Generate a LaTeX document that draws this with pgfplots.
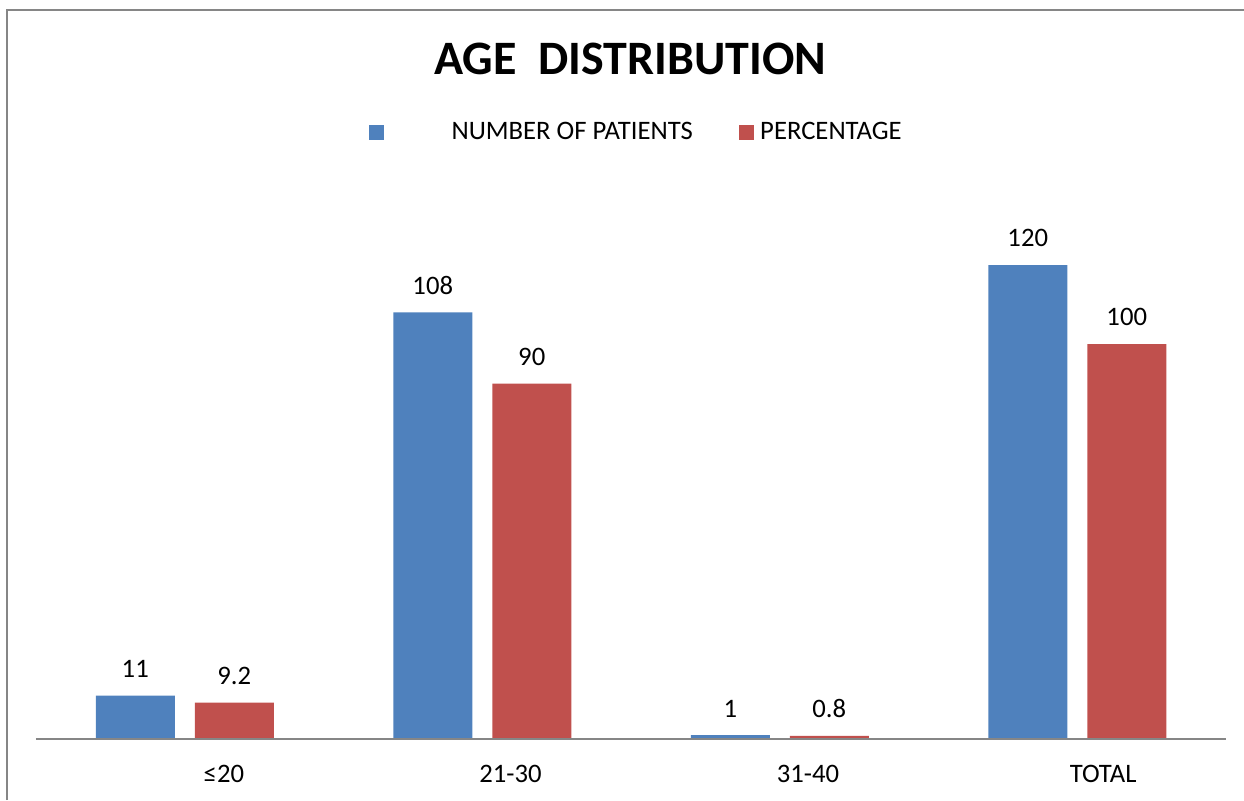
\documentclass[border=0pt]{standalone}
\usepackage{fontspec}
\setmainfont{Carlito}
\usepackage{pgfplots}
\pgfplotsset{compat=1.18}
\definecolor{barblue}{HTML}{4F81BD}
\definecolor{barred}{HTML}{C0504D}
\definecolor{framegray}{HTML}{868686}

\begin{document}
\begin{tikzpicture}[x=0.75pt,y=0.75pt]
\useasboundingbox (0,0) rectangle (1244,800);
% chart frame (open at right and bottom)
\draw[framegray, line width=1.5pt] (7,0) -- (7,790) -- (1260,790);
% title
\node[anchor=base, font=\fontsize{36}{40}\selectfont\bfseries] at (630,725) {AGE\ \ DISTRIBUTION};
\begin{axis}[
  at={(27pt,45.75pt)}, anchor=south west,
  scale only axis, width=892.5pt, height=385.1pt,
  xmin=-0.5, xmax=3.5, ymin=0, ymax=130,
  ybar=15pt, bar width=59.25pt,
  axis y line=none,
  axis x line=bottom,
  x axis line style={-, framegray, line width=1.5pt},
  xtick={0,1,2,3},
  xticklabels={≤20,21-30,31-40,TOTAL},
  major tick length=0pt,
  xticklabel style={anchor=north east, xshift=48pt, yshift=-16pt, font=\fontsize{20}{24}\selectfont},
  ytick=\empty,
  /pgf/number format/assume math mode=true,
  nodes near coords,
  every node near coord/.append style={font=\fontsize{20}{24}\selectfont, yshift=10pt, text=black},
  legend columns=2,
  legend cell align=left,
  legend image code/.code={\fill[#1] (0pt,-5.6pt) rectangle (11.25pt,5.6pt);},
  legend style={draw=none, fill=none, inner sep=0pt, at={(0.2798,1.182)}, anchor=west,
    font=\fontsize{20}{24}\selectfont,
    /tikz/every even column/.append style={column sep=32.25pt}},
  axis on top,
  clip=false,
]
\addplot[fill=barblue, draw=none] coordinates {(0,11) (1,108) (2,1) (3,120)};
\addplot[fill=barred, draw=none] coordinates {(0,9.2) (1,90) (2,0.8) (3,100)};
\legend{\hspace*{48.5pt}NUMBER OF PATIENTS, \hspace*{3pt}PERCENTAGE}
\end{axis}
\end{tikzpicture}
\end{document}
